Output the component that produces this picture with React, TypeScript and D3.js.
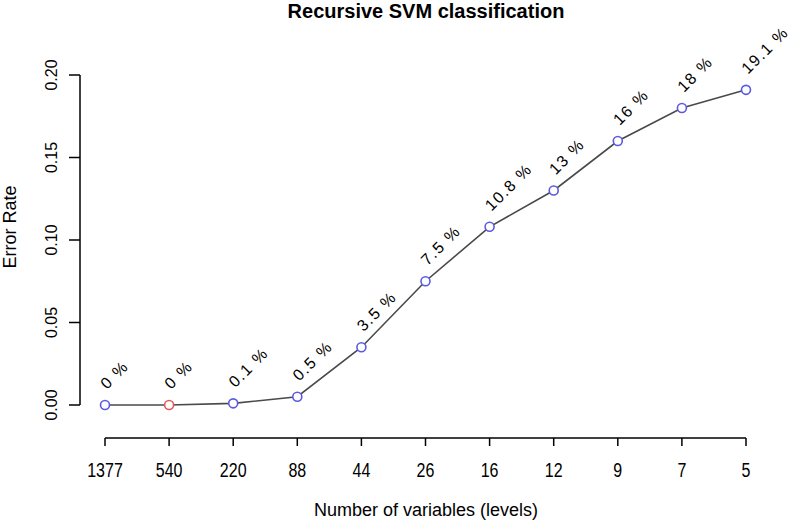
import React from "react";
import * as d3 from "d3";

const categories = ["1377", "540", "220", "88", "44", "26", "16", "12", "9", "7", "5"];
const errorRates = [0, 0, 0.001, 0.005, 0.035, 0.075, 0.108, 0.13, 0.16, 0.18, 0.191];
const pctLabels = ["0 %", "0 %", "0.1 %", "0.5 %", "3.5 %", "7.5 %", "10.8 %", "13 %", "16 %", "18 %", "19.1 %"];
const highlightIndex = [1];
const yTicks = [0, 0.05, 0.1, 0.15, 0.2];

const W = 797;
const H = 523;

export default function App() {
  const x = d3.scalePoint<string>().domain(categories).range([105, 746]);
  const y = d3.scaleLinear().domain([0, 0.2]).range([405, 75]);
  const line = d3
    .line<number>()
    .x((_, i) => x(categories[i]) as number)
    .y((d) => y(d));
  const sans = "'Liberation Sans', Arial, sans-serif";
  const axisY = 438;
  return (
    <svg width={W} height={H} style={{ position: "absolute", left: 0, top: 0, background: "#fff" }}>
      <rect x={0} y={0} width={W} height={H} fill="#fff" />
      <text x={426} y={18} textAnchor="middle" fontFamily={sans} fontWeight="bold" fontSize={20} fill="#000">
        Recursive SVM classification
      </text>
      {/* y axis */}
      <line x1={80} x2={80} y1={y(0.2)} y2={y(0)} stroke="#000" strokeWidth={1.5} />
      {yTicks.map((t) => (
        <g key={t}>
          <line x1={69} x2={80} y1={y(t)} y2={y(t)} stroke="#000" strokeWidth={1.5} />
          <text
            transform={`translate(57,${y(t)}) rotate(-90)`}
            textAnchor="middle"
            fontFamily={sans}
            fontSize={16}
            fill="#000"
          >
            {d3.format(".2f")(t)}
          </text>
        </g>
      ))}
      <text transform={`translate(16,227) rotate(-90)`} textAnchor="middle" fontFamily={sans} fontSize={18} fill="#000">
        Error Rate
      </text>
      {/* x axis */}
      <line x1={x(categories[0])} x2={x(categories[categories.length - 1])} y1={axisY} y2={axisY} stroke="#000" strokeWidth={1.5} />
      {categories.map((c) => (
        <g key={c}>
          <line x1={x(c)} x2={x(c)} y1={axisY} y2={axisY + 8} stroke="#000" strokeWidth={1.5} />
          <text
            transform={`translate(${x(c)},477) scale(0.8,1)`}
            textAnchor="middle"
            fontFamily={sans}
            fontSize={20}
            fill="#000"
          >
            {c}
          </text>
        </g>
      ))}
      <text x={426} y={516} textAnchor="middle" fontFamily={sans} fontSize={18} fill="#000">
        Number of variables (levels)
      </text>
      {/* line */}
      <path d={line(errorRates) || ""} fill="none" stroke="#4a4a4a" strokeWidth={1.6} />
      {errorRates.map((v, i) => (
        <circle
          key={i}
          cx={x(categories[i])}
          cy={y(v)}
          r={4.5}
          fill="#fff"
          stroke={highlightIndex.includes(i) ? "#e05a5a" : "#5a5ae0"}
          strokeWidth={1.6}
        />
      ))}
      {pctLabels.map((l, i) => (
        <text
          key={i}
          transform={`translate(${(x(categories[i]) as number) + 2},${y(errorRates[i]) - 15}) rotate(-45)`}
          fontFamily={sans}
          fontSize={16}
          fill="#000"
          style={{ letterSpacing: "1.5px" }}
        >
          {l}
        </text>
      ))}
    </svg>
  );
}
